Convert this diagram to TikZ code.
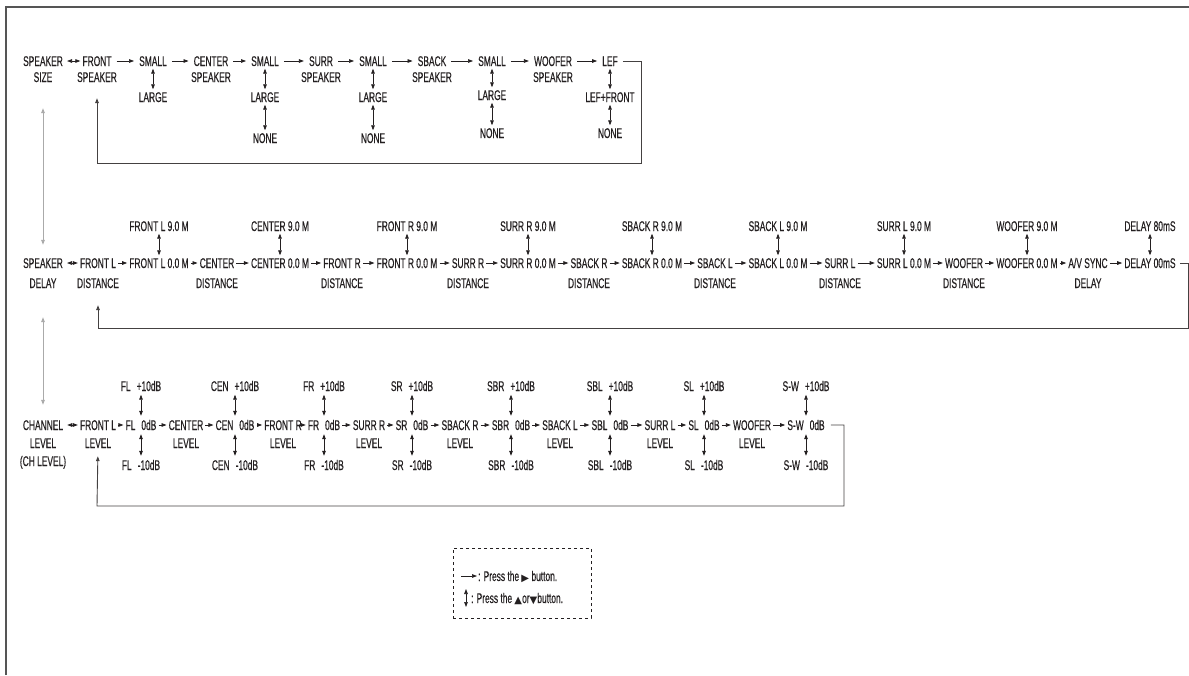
\documentclass[tikz,border=0pt]{standalone}
\usepackage{fontspec}
\setmainfont{Liberation Sans}[FakeStretch=0.6,FakeBold=0.4]
\newfontfamily\symf{DejaVu Sans}
\usetikzlibrary{arrows.meta}
\definecolor{ink}{HTML}{231F20}
\definecolor{frame}{HTML}{555555}
\definecolor{guide}{HTML}{AAAAAA}
\newcommand\gp{\hspace{6pt}}
\begin{document}
\begin{tikzpicture}[x=1pt,y=-1pt,
  >={Triangle[length=5pt,width=3.6pt]},
  every node/.style={inner sep=0pt, text height=10pt, text depth=0pt,
    font=\fontsize{14}{16}\selectfont, text=ink},
  ra/.style={->, line width=0.7pt, draw=ink, shorten <=2pt, shorten >=2pt},
  rat/.style={ra, shorten <=5pt, shorten >=5pt},
  ud/.style={<->, line width=0.7pt, draw=ink, shorten <=2.5pt, shorten >=2.5pt},
  dbl/.style={<->, line width=0.7pt, draw=ink, shorten <=4pt, shorten >=2pt},
  gr/.style={<->, line width=1pt, draw=guide},
  ret/.style={->, line width=0.9pt, draw=ink!85},
  legtxt/.style={anchor=west}
]
\useasboundingbox (0,0) rectangle (1189,675);
\draw[line width=1.4pt, frame] (6,675) -- (6,7) -- (1189,7);

% ---------------- top row: SPEAKER SIZE
\node (ssA) at (43,61) {SPEAKER}; \node (ssB) at (43,77) {SIZE};
\node (fsA) at (97,61) {FRONT}; \node (fsB) at (97,77) {SPEAKER};
\node (s1) at (153,61) {SMALL}; \node (l1) at (153,97) {LARGE};
\node (csA) at (211,61) {CENTER}; \node (csB) at (211,77) {SPEAKER};
\node (s2) at (265,61) {SMALL}; \node (l2) at (265,97) {LARGE}; \node (n2) at (265,138) {NONE};
\node (suA) at (321,61) {SURR}; \node (suB) at (321,77) {SPEAKER};
\node (s3) at (373,61) {SMALL}; \node (l3) at (373,97) {LARGE}; \node (n3) at (373,138) {NONE};
\node (sbA) at (432,61) {SBACK}; \node (sbB) at (432,77) {SPEAKER};
\node (s4) at (492,61) {SMALL}; \node (l4) at (492,95) {LARGE}; \node (n4) at (492,133) {NONE};
\node (wsA) at (553,61) {WOOFER}; \node (wsB) at (553,77) {SPEAKER};
\node (lef) at (610,61) {LEF}; \node (lf) at (610,97) {LEF+FRONT}; \node (n5) at (610,133) {NONE};

\draw[dbl] (ssA.east) -- (fsA.west);
\draw[rat] (fsA.east) -- (s1.west);
\draw[rat] (s1.east) -- (csA.west);
\draw[rat] (csA.east) -- (s2.west);
\draw[rat] (s2.east) -- (suA.west);
\draw[rat] (suA.east) -- (s3.west);
\draw[rat] (s3.east) -- (sbA.west);
\draw[rat] (sbA.east) -- (s4.west);
\draw[rat] (s4.east) -- (wsA.west);
\draw[rat] (wsA.east) -- (lef.west);
\draw[ud] (s1.south) -- (l1.north);
\draw[ud] (s2.south) -- (l2.north);
\draw[ud] (l2.south) -- (n2.north);
\draw[ud] (s3.south) -- (l3.north);
\draw[ud] (l3.south) -- (n3.north);
\draw[ud] (s4.south) -- (l4.north);
\draw[ud] (l4.south) -- (n4.north);
\draw[ud] (lef.south) -- (lf.north);
\draw[ud] (lf.south) -- (n5.north);
\draw[ret, shorten >=16pt] ([xshift=5pt]lef.east) -- (641,61) -- (641,163) -- (97,163) -- (fsB.south);

% ---------------- middle row: SPEAKER DELAY
\node (sdA) at (43,263) {SPEAKER}; \node (sdB) at (43,283) {DELAY};
\node (d1) at (98,263) {FRONT L}; \node (d1b) at (98,283) {DISTANCE};
\node (v1) at (159,263) {FRONT L 0.0 M}; \node (u1) at (159,226) {FRONT L 9.0 M};
\node (d2) at (217,263) {CENTER}; \node (d2b) at (217,283) {DISTANCE};
\node (v2) at (280,263) {CENTER 0.0 M}; \node (u2) at (280,226) {CENTER 9.0 M};
\node (d3) at (342,263) {FRONT R}; \node (d3b) at (342,283) {DISTANCE};
\node (v3) at (407,263) {FRONT R 0.0 M}; \node (u3) at (407,226) {FRONT R 9.0 M};
\node (d4) at (468,263) {SURR R}; \node (d4b) at (468,283) {DISTANCE};
\node (v4) at (528,263) {SURR R 0.0 M}; \node (u4) at (528,226) {SURR R 9.0 M};
\node (d5) at (589,263) {SBACK R}; \node (d5b) at (589,283) {DISTANCE};
\node (v5) at (652,263) {SBACK R 0.0 M}; \node (u5) at (652,226) {SBACK R 9.0 M};
\node (d6) at (715,263) {SBACK L}; \node (d6b) at (715,283) {DISTANCE};
\node (v6) at (778,263) {SBACK L 0.0 M}; \node (u6) at (778,226) {SBACK L 9.0 M};
\node (d7) at (840,263) {SURR L}; \node (d7b) at (840,283) {DISTANCE};
\node (v7) at (904,263) {SURR L 0.0 M}; \node (u7) at (904,226) {SURR L 9.0 M};
\node (d8) at (964,263) {WOOFER}; \node (d8b) at (964,283) {DISTANCE};
\node (v8) at (1027,263) {WOOFER 0.0 M}; \node (u8) at (1027,226) {WOOFER 9.0 M};
\node (d9) at (1088,263) {A/V SYNC}; \node (d9b) at (1088,283) {DELAY};
\node (v9) at (1150,263) {DELAY 00mS}; \node (u9) at (1150,226) {DELAY 80mS};

\draw[dbl] (sdA.east) -- (d1.west);
\draw[ra] (d1.east) -- (v1.west);
\draw[ra] (v1.east) -- (d2.west);
\draw[ra] (d2.east) -- (v2.west);
\draw[ra] (v2.east) -- (d3.west);
\draw[ra] (d3.east) -- (v3.west);
\draw[ra] (v3.east) -- (d4.west);
\draw[ra] (d4.east) -- (v4.west);
\draw[ra] (v4.east) -- (d5.west);
\draw[ra] (d5.east) -- (v5.west);
\draw[ra] (v5.east) -- (d6.west);
\draw[ra] (d6.east) -- (v6.west);
\draw[ra] (v6.east) -- (d7.west);
\draw[ra] (d7.east) -- (v7.west);
\draw[ra] (v7.east) -- (d8.west);
\draw[ra] (d8.east) -- (v8.west);
\draw[ra] (v8.east) -- (d9.west);
\draw[ra] (d9.east) -- (v9.west);
\foreach \k in {1,...,9} { \draw[ud] (u\k.south) -- (v\k.north); }
\draw[ret, shorten >=17pt] ([xshift=4pt]v9.east) -- (1188,263) -- (1188,328) -- (98,328) -- (d1b.south);

% ---------------- bottom row: CHANNEL LEVEL
\node (clA) at (43,425) {CHANNEL}; \node (clB) at (43,443) {LEVEL}; \node (clC) at (43,461) {(CH LEVEL)};
\node (e1) at (98,425) {FRONT L}; \node (e1b) at (98,443) {LEVEL};
\node (g1) at (141,425) {FL\gp 0dB}; \node (p1) at (141,386) {FL\gp +10dB}; \node (m1) at (141,465) {FL\gp -10dB};
\node (e2) at (186,425) {CENTER}; \node (e2b) at (186,443) {LEVEL};
\node (g2) at (235,425) {CEN\gp 0dB}; \node (p2) at (235,386) {CEN\gp +10dB}; \node (m2) at (235,465) {CEN\gp -10dB};
\node (e3) at (283,425) {FRONT R}; \node (e3b) at (283,443) {LEVEL};
\node (g3) at (324,425) {FR\gp 0dB}; \node (p3) at (324,386) {FR\gp +10dB}; \node (m3) at (324,465) {FR\gp -10dB};
\node (e4) at (369,425) {SURR R}; \node (e4b) at (369,443) {LEVEL};
\node (g4) at (412,425) {SR\gp 0dB}; \node (p4) at (412,386) {SR\gp +10dB}; \node (m4) at (412,465) {SR\gp -10dB};
\node (e5) at (460,425) {SBACK R}; \node (e5b) at (460,443) {LEVEL};
\node (g5) at (511,425) {SBR\gp 0dB}; \node (p5) at (511,386) {SBR\gp +10dB}; \node (m5) at (511,465) {SBR\gp -10dB};
\node (e6) at (560,425) {SBACK L}; \node (e6b) at (560,443) {LEVEL};
\node (g6) at (610,425) {SBL\gp 0dB}; \node (p6) at (610,386) {SBL\gp +10dB}; \node (m6) at (610,465) {SBL\gp -10dB};
\node (e7) at (660,425) {SURR L}; \node (e7b) at (660,443) {LEVEL};
\node (g7) at (704,425) {SL\gp 0dB}; \node (p7) at (704,386) {SL\gp +10dB}; \node (m7) at (704,465) {SL\gp -10dB};
\node (e8) at (752,425) {WOOFER}; \node (e8b) at (752,443) {LEVEL};
\node (g8) at (806,425) {S-W\gp 0dB}; \node (p8) at (806,386) {S-W\gp +10dB}; \node (m8) at (806,465) {S-W\gp -10dB};

\draw[dbl] (clA.east) -- (e1.west);
\draw[ra] (e1.east) -- (g1.west);
\draw[ra] (g1.east) -- (e2.west);
\draw[ra] (e2.east) -- (g2.west);
\draw[ra] (g2.east) -- (e3.west);
\draw[ra] (e3.east) -- (g3.west);
\draw[ra] (g3.east) -- (e4.west);
\draw[ra] (e4.east) -- (g4.west);
\draw[ra] (g4.east) -- (e5.west);
\draw[ra] (e5.east) -- (g5.west);
\draw[ra] (g5.east) -- (e6.west);
\draw[ra] (e6.east) -- (g6.west);
\draw[ra] (g6.east) -- (e7.west);
\draw[ra] (e7.east) -- (g7.west);
\draw[ra] (g7.east) -- (e8.west);
\draw[ra] (e8.east) -- (g8.west);
\foreach \k in {1,...,8} {
  \draw[ud, shorten <=3.5pt, shorten >=4pt] (p\k.south) -- (g\k.north);
  \draw[ud, shorten <=4pt, shorten >=4pt] (g\k.south) -- (m\k.north);
}
\draw[ret, shorten >=8pt] ([xshift=6pt]g8.east) -- (844,425) -- (844,506) -- (97,506) -- (e1b.south);

% ---------------- guide arrows between sections
\draw[gr, shorten <=26pt, shorten >=13pt] (ssB.south) -- (sdA.north);
\draw[gr, shorten <=29pt, shorten >=15pt] (sdB.south) -- (clA.north);

% ---------------- legend
\node[draw=ink, dashed, line width=0.6pt, minimum width=138pt, minimum height=70pt, text height=, text depth=] (leg) at (522,583) {};
\coordinate (ha) at (461,576); \coordinate (hb) at (477,576);
\coordinate (va) at (466,589); \coordinate (vb) at (466,607);
\draw[->, line width=0.7pt, draw=ink] (ha) -- (hb);
\draw[<->, line width=0.7pt, draw=ink] (va) -- (vb);
\node[legtxt] (lt1) at (478,576) {: Press the {\symf\fontsize{10}{10}\selectfont ▶}\,button.};
\node[legtxt] (lt2) at (471,598) {: Press the {\symf\fontsize{10}{10}\selectfont ▲}or{\symf\fontsize{10}{10}\selectfont ▼}button.};
\end{tikzpicture}
\end{document}
